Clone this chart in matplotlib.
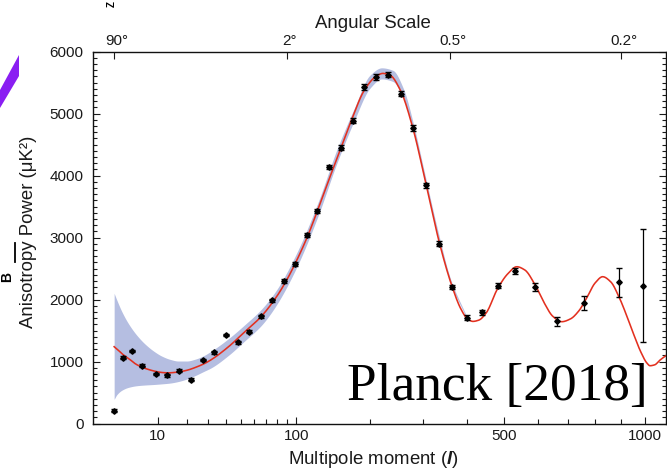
import numpy as np
import matplotlib
matplotlib.use("Agg")
import matplotlib.pyplot as plt
from matplotlib.ticker import FixedLocator, MultipleLocator, NullLocator
from matplotlib.patches import Polygon
from matplotlib.lines import Line2D
import matplotlib.transforms as mtransforms

plt.rcParams['font.family'] = ['Liberation Sans', 'DejaVu Sans']
plt.rcParams['mathtext.fontset'] = 'custom'
plt.rcParams['mathtext.it'] = 'Liberation Sans:italic:bold'
plt.rcParams['mathtext.rm'] = 'Liberation Sans'

# ---------------- data ----------------
ell_pts = [2, 3, 4.4, 6.3, 9.5, 12.8, 16.9, 21.8, 27.3, 33.3, 40.2, 48.4, 56.5,
           65.7, 75.7, 86.9, 98.6, 111.7, 124.4, 139.3, 155.4, 172.9, 190.9,
           210.2, 231.1, 254.6, 278.0, 306.1, 334.5, 364.4, 400.0, 439.3,
           481.9, 531.6, 591.8, 663.7, 758.6, 894.7, 994.8]
D_pts = [210, 1063, 1173, 935, 802, 778, 858, 710, 1027, 1152, 1431, 1313, 1482,
         1734, 1990, 2306, 2581, 3048, 3426, 4140, 4452, 4887, 5426,
         5592, 5629, 5323, 4769, 3845, 2903, 2205, 1710, 1797,
         2226, 2458, 2200, 1652, 1942, 2281, 2226]
err_pts = [22, 22, 22, 22, 22, 22, 22, 22, 22, 22, 22, 22, 22,
           25, 28, 30, 30, 35, 35, 40, 40, 40, 45,
           45, 45, 45, 45, 45, 40, 40, 40, 40,
           45, 50, 65, 75, 115, 230, 910]

ell_curve = [2, 2.5, 3, 4, 5, 6, 7, 9, 11, 13, 16, 20, 24, 28, 32, 42, 53, 66,
             80, 90, 100, 112, 125, 140, 155, 173, 191, 210, 222, 235, 255, 278,
             306, 335, 364, 385, 400, 415, 430, 450, 480, 510, 536, 560, 592,
             620, 650, 680, 710, 740, 770, 800, 829, 860, 895, 925, 952, 985,
             1010, 1024, 1045, 1068, 1100]
D_curve = [1242, 1180, 1120, 1040, 965, 920, 890, 850, 827, 820, 830, 862, 912,
           970, 1040, 1245, 1480, 1726, 2050, 2320, 2620, 3000, 3450, 3960, 4420,
           4950, 5380, 5600, 5650, 5620, 5360, 4780, 3850, 2910, 2210, 1850, 1700,
           1650, 1670, 1790, 2170, 2420, 2532, 2480, 2240, 1960, 1730, 1645, 1690,
           1820, 2040, 2270, 2371, 2290, 2030, 1740, 1460, 1150, 980, 935, 950,
           1025, 1110]

band_ell = [2, 2.3, 2.9, 3.8, 5.2, 6.9, 8.9, 11.1, 13.7, 16.6, 19.9, 23.5, 27.5,
            31.8, 41.7, 53.3, 66.5, 80, 100, 125, 150, 175, 200, 220, 240, 260,
            280, 300, 330, 360, 400]
band_lo = [393, 470, 540, 585, 612, 624, 632, 642, 655, 680, 720, 775, 840,
           905, 1100, 1340, 1590, 1920, 2510, 3340, 4200, 4880, 5410, 5560, 5520,
           5240, 4680, 4010, 3060, 2280, 1690]
band_hi = [2103, 1990, 1807, 1619, 1431, 1285, 1173, 1092, 1038, 1011, 1011, 1040,
           1095, 1175, 1370, 1600, 1850, 2160, 2740, 3560, 4420, 5080, 5620, 5740,
           5700, 5400, 4820, 4130, 3150, 2340, 1720]

bottom_major = [10, 100, 500, 1000]
bottom_minor = [20, 30, 40, 50, 60, 70, 80, 90, 200, 300, 400, 600, 700, 800, 900]
angles_deg = [90, 2, 0.5, 0.2]
angle_labels = ['90°', '2°', '0.5°', '0.2°']


def fwd(x):
    x = np.asarray(x, dtype=float)
    return np.sign(x) * np.abs(x) ** 0.4


def inv(y):
    y = np.asarray(y, dtype=float)
    return np.sign(y) * np.abs(y) ** 2.5


def smooth_line(xs, ys, n=12):
    """Shape-preserving cubic through the read points (drawn in axis space)."""
    x = fwd(xs)
    y = np.asarray(ys, dtype=float)
    h = np.diff(x)
    d = np.diff(y) / h
    m = np.zeros_like(y)
    m[0], m[-1] = d[0], d[-1]
    for k in range(1, len(y) - 1):
        if d[k - 1] * d[k] > 0:
            w1 = 2 * h[k] + h[k - 1]
            w2 = h[k] + 2 * h[k - 1]
            m[k] = (w1 + w2) / (w1 / d[k - 1] + w2 / d[k])
    xo, yo = [], []
    for k in range(len(h)):
        t = np.linspace(0, 1, n, endpoint=False)
        h00 = 2 * t**3 - 3 * t**2 + 1
        h10 = t**3 - 2 * t**2 + t
        h01 = -2 * t**3 + 3 * t**2
        h11 = t**3 - t**2
        xo.append(x[k] + t * h[k])
        yo.append(h00 * y[k] + h10 * h[k] * m[k] + h01 * y[k + 1] + h11 * h[k] * m[k + 1])
    xo.append([x[-1]])
    yo.append([y[-1]])
    return inv(np.concatenate(xo)), np.concatenate(yo)


# ---------------- figure ----------------
W, H = 667, 469
fig = plt.figure(figsize=(W / 100, H / 100), dpi=100)


def px(x0, y0):
    return (x0 / W, 1 - y0 / H)


L, R, T, B = 93.3, 666.0, 51.7, 423.7
ax = fig.add_axes([L / W, 1 - B / H, (R - L) / W, (B - T) / H])
ax.set_xscale('function', functions=(fwd, inv))
xlim = (0.484, 1095.5)
ax.set_xlim(*xlim)
ax.set_ylim(0, 6000)

bx, blo = smooth_line(band_ell, band_lo)
_, bhi = smooth_line(band_ell, band_hi)
ax.fill_between(bx, blo, bhi, color='#b5bee1', lw=0, zorder=1)
cx, cy = smooth_line(ell_curve, D_curve)
ax.plot(cx, cy, color='#e3301f', lw=1.15, zorder=2)
ax.errorbar(ell_pts, D_pts, yerr=err_pts, fmt='D', ms=2.8, color='black',
            ecolor='black', elinewidth=0.9, capsize=2.2, capthick=1.0, zorder=4)

ax.xaxis.set_major_locator(FixedLocator(bottom_major))
ax.xaxis.set_minor_locator(FixedLocator(bottom_minor))
ax.set_xticklabels([str(v) for v in bottom_major])
ax.yaxis.set_major_locator(MultipleLocator(1000))
ax.yaxis.set_minor_locator(MultipleLocator(100))

tc = '#1a1a1a'
ax.tick_params(axis='x', which='both', direction='in', top=False, bottom=True,
               labelsize=11, pad=4.0, colors=tc, width=0.8)
ax.tick_params(axis='x', which='major', length=5.0)
ax.tick_params(axis='x', which='minor', length=3.3)
ax.tick_params(axis='y', which='both', direction='in', left=True, right=True,
               labelsize=11, pad=7.0, colors=tc, width=0.8)
ax.tick_params(axis='y', which='major', length=4.8)
ax.tick_params(axis='y', which='minor', length=2.9)
for s in ax.spines.values():
    s.set_linewidth(1.0)
    s.set_color('#111111')

ax.set_xlabel('Multipole moment ($\\mathit{l}$)', fontsize=13.4, color=tc)
ax.xaxis.set_label_coords((373 - L) / (R - L), (B - 449.5) / (B - T))
ax.set_ylabel('Anisotropy Power (μK²)', fontsize=13.4, color=tc)
ax.yaxis.set_label_coords((37 - L) / (R - L), (B - 232) / (B - T))

ax2 = ax.twiny()
ax2.set_xscale('function', functions=(fwd, inv))
ax2.set_xlim(*xlim)
ax2.xaxis.set_major_locator(FixedLocator([180.0 / a for a in angles_deg]))
ax2.xaxis.set_minor_locator(NullLocator())
ax2.set_xticklabels(angle_labels)
ax2.tick_params(axis='x', which='major', direction='in', length=5.0, width=0.8,
                labelsize=11, pad=3.0, colors=tc)
for s in ax2.spines.values():
    s.set_visible(False)
offset = mtransforms.ScaledTranslation(3 / 100, 0, fig.dpi_scale_trans)
for lab in ax2.get_xticklabels():
    lab.set_transform(lab.get_transform() + offset)
ax2.set_xlabel('Angular Scale', fontsize=13.4, color=tc)
ax2.xaxis.set_label_coords((373 - L) / (R - L), (B - 27.5) / (B - T))

fig.text(*px(648, 400), 'Planck [2018]', fontsize=38.4, family='Liberation Serif',
         ha='right', va='baseline', color='black', zorder=10)

# fragments of a neighbouring figure at the left edge
fig.add_artist(Polygon([px(0, 90), px(19, 55), px(19, 76), px(0, 108)],
                       closed=True, transform=fig.transFigure,
                       facecolor='#8a1ef2', edgecolor='none'))
fig.text(*px(0, 277), 'B', fontsize=10, fontweight='bold', rotation=90,
         ha='left', va='center', color='black')
fig.add_artist(Line2D([15 / W, 15 / W], [1 - 243 / H, 1 - 262 / H],
                      transform=fig.transFigure, color='black', lw=1.3))
fig.text(*px(112, 1), 'Z', fontsize=7, fontweight='bold', rotation=90,
         ha='center', va='top', color='black')

fig.savefig('out.png', dpi=100)
